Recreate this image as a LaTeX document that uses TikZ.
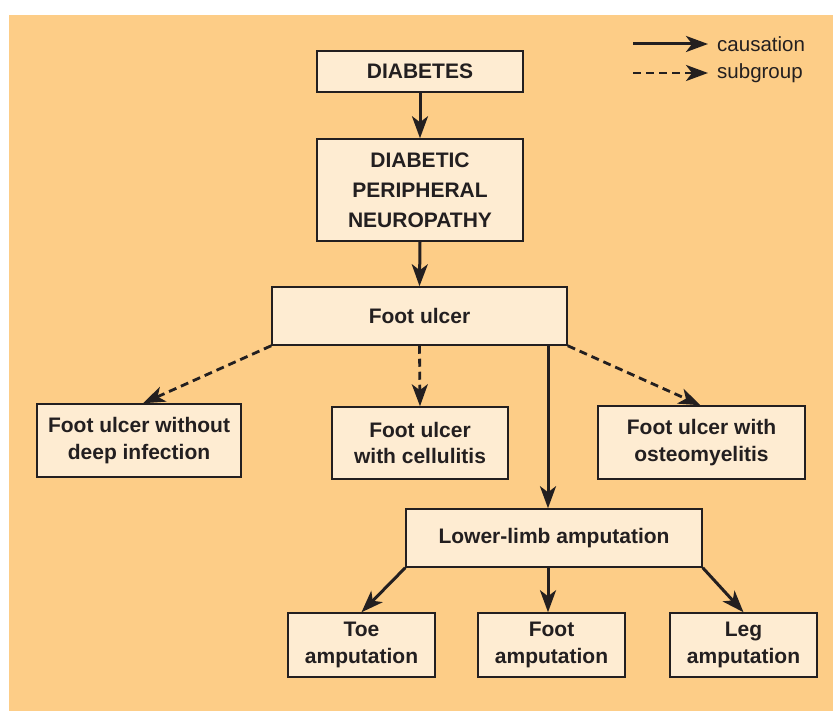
\documentclass[tikz,border=0pt]{standalone}
\usepackage{fontspec}
\setmainfont{Liberation Sans}
\usetikzlibrary{arrows.meta}
\definecolor{bgorange}{RGB}{253,205,135}
\definecolor{boxfill}{RGB}{254,236,210}
\definecolor{ink}{RGB}{35,31,32}
\begin{document}
\begin{tikzpicture}[x=1pt,y=-1pt,
  box/.style={draw=ink,line width=1.5pt,fill=boxfill,rectangle,inner sep=0pt,
    align=center,font=\fontsize{21}{26.5}\selectfont\bfseries,text=ink},
  cause/.style={draw=ink,line width=3pt,-{Stealth[length=22pt,width=16pt,inset=6pt]}},
  sub/.style={draw=ink,line width=2.8pt,dash pattern=on 8pt off 5pt,-{Stealth[length=22pt,width=16pt,inset=6pt]}},
  legtext/.style={font=\fontsize{20.5}{24}\selectfont,text=ink,anchor=west,inner sep=0pt}]
\useasboundingbox (0,0) rectangle (833,711);
\fill[bgorange] (9,15) rectangle (833,711);
% boxes
\node[box,minimum width=206pt,minimum height=41pt] (diab) at (420,71.5) {DIABETES};
\node[box,minimum width=206pt,minimum height=102pt,font=\fontsize{21}{30}\selectfont\bfseries] (dpn) at (420,190) {DIABETIC\\PERIPHERAL\\NEUROPATHY};
\node[box,minimum width=295pt,minimum height=58pt] (fu) at (419.5,316) {Foot ulcer};
\node[box,minimum width=204pt,minimum height=73pt] (fwo) at (139,440.5) {Foot ulcer without\\deep infection};
\node[box,minimum width=176pt,minimum height=72pt] (fcel) at (420,443) {Foot ulcer\\with cellulitis};
\node[box,minimum width=207pt,minimum height=73pt] (fost) at (701.5,442.5) {Foot ulcer with\\osteomyelitis};
\node[box,minimum width=296pt,minimum height=58pt] (lla) at (554,538) {Lower-limb amputation};
\node[box,minimum width=147pt,minimum height=64pt] (toe) at (361.5,645) {Toe\\amputation};
\node[box,minimum width=147pt,minimum height=64pt] (foot) at (551.5,645) {Foot\\amputation};
\node[box,minimum width=147pt,minimum height=64pt] (leg) at (743.5,645) {Leg\\amputation};
% connectors
\draw[cause] (diab.south) -- (dpn.north);
\draw[cause] (dpn.south) -- (fu.north);
\draw[sub] (fu.south west) -- ([xshift=4pt]fwo.north);
\draw[sub] (fu.south) -- (fcel.north);
\draw[sub] (fu.south east) -- ([xshift=-1pt]fost.north);
\draw[cause] ([xshift=-6pt]lla.north |- fu.south) -- ([xshift=-6pt]lla.north);
\draw[cause] (lla.south west) -- (toe.north);
\draw[cause] ([xshift=-6pt]lla.south) -- ([xshift=-3.5pt]foot.north);
\draw[cause] (lla.south east) -- (leg.north);
% legend
\coordinate (c1) at (633,44);
\coordinate (c2) at (708,44);
\coordinate (s1) at (633,73);
\coordinate (s2) at (708,73);
\draw[cause] (c1) -- (c2);
\draw[sub] (s1) -- (s2);
\node[legtext] (lc) at (717,44) {causation};
\node[legtext] (ls) at (717,73) {subgroup};
\end{tikzpicture}
\end{document}
